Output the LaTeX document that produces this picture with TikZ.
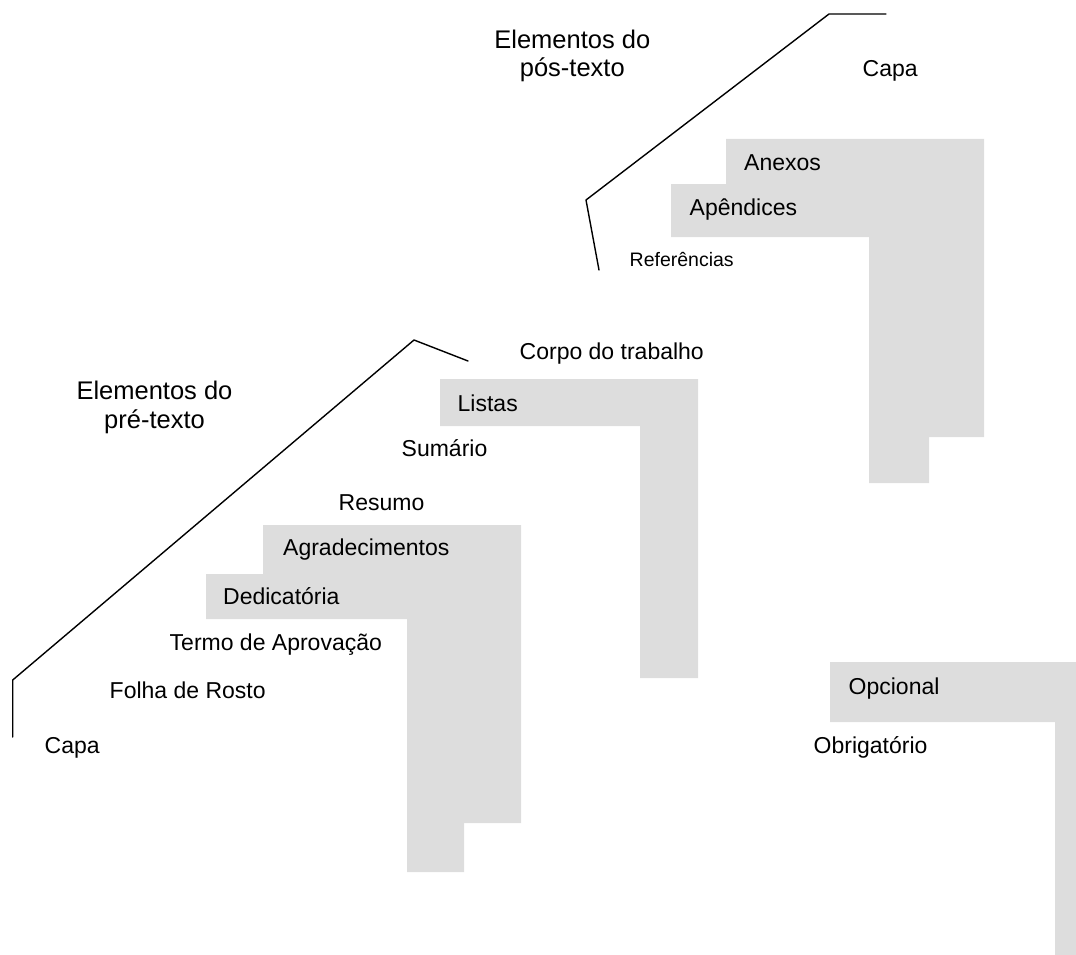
\documentclass[tikz,border=0pt]{standalone}
\usepackage{fontspec}
\setmainfont{Liberation Sans}
\definecolor{stepgray}{RGB}{221,221,221}
\tikzset{
  lbl/.style={inner sep=0pt, anchor=base west, font=\fontsize{23}{27}\selectfont},
  smalllbl/.style={inner sep=0pt, anchor=base west, font=\fontsize{19.5}{23}\selectfont},
  biglbl/.style={inner sep=0pt, anchor=base, align=center, font=\fontsize{25.5}{28.5}\selectfont},
  roof/.style={line width=1.4pt}
}
\begin{document}
\begin{tikzpicture}[x=1pt, y=-1pt, line join=round, line cap=round]
	\useasboundingbox (0,0) rectangle (1076,955);
	% grey steps, pre-text
	\fill[stepgray] (206,574) rectangle (464,619) (407,619) rectangle (464,872);
	\fill[stepgray] (263,525) rectangle (521,574) (464,574) rectangle (521,823);
	% body
	\fill[stepgray] (440,379) rectangle (698,426) (640,426) rectangle (698,678);
	% post-text
	\fill[stepgray] (671,184) rectangle (929,237) (869,237) rectangle (929,483);
	\fill[stepgray] (726,139) rectangle (984,184) (929,184) rectangle (984,437);
	% legend
	\fill[stepgray] (830,662) rectangle (1076,722) (1055,722) rectangle (1076,955);
	% roofs
	\draw[roof] (12.7,737)--(12.7,680)--(414,340)--(468,361);
	\draw[roof] (599,270)--(586,200)--(829,14)--(886,14);
	% labels
	\node[biglbl] (pretexto) at (154.5,428) {Elementos do\\pré-texto};
	\node[biglbl] (postexto) at (572.3,77) {Elementos do\\pós-texto};
	\node[lbl] (capa) at (44.5,753) {Capa};
	\node[lbl] (rosto) at (109.5,698) {Folha de Rosto};
	\node[lbl] (termo) at (169.5,650.7) {Termo de Aprovação};
	\node[lbl] (dedic) at (223,604.7) {Dedicatória};
	\node[lbl] (agrad) at (283,555.7) {Agradecimentos};
	\node[lbl] (resumo) at (338.5,510) {Resumo};
	\node[lbl] (sumario) at (401.5,456.7) {Sumário};
	\node[lbl] (listas) at (457.5,411) {Listas};
	\node[lbl] (corpo) at (519.5,359.5) {Corpo do trabalho};
	\node[smalllbl] (refs) at (629.5,266) {Referências};
	\node[lbl] (apend) at (689.5,215.7) {Apêndices};
	\node[lbl] (anexos) at (744,170) {Anexos};
	\node[lbl] (capafim) at (862.5,76.7) {Capa};
	\node[lbl] (opcional) at (848.5,694.3) {Opcional};
	\node[lbl] (obrig) at (813.5,753.3) {Obrigatório};
\end{tikzpicture}
\end{document}
